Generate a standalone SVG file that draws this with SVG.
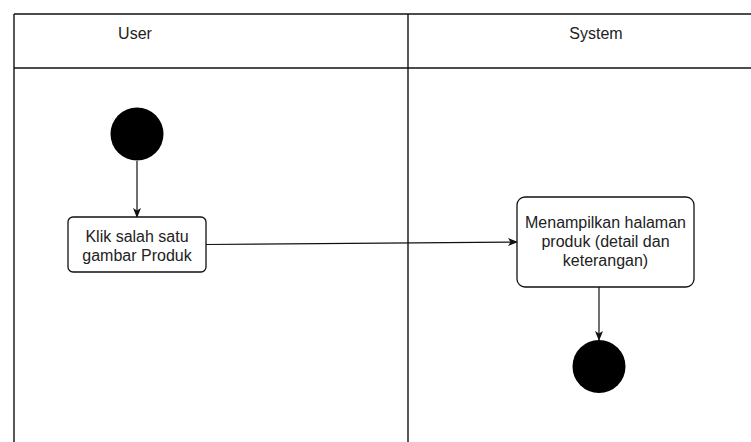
<svg xmlns="http://www.w3.org/2000/svg" width="751" height="442" viewBox="0 0 751 442">
  <defs>
    <style>
      .lane { fill: none; stroke: #111; stroke-width: 1.4; }
      .action { fill: #fff; stroke: #111; stroke-width: 1.3; }
      .dot { fill: #000; }
      .flow { fill: none; stroke: #111; stroke-width: 1.2; }
      .label { font-family: "Liberation Sans", Arial, sans-serif; font-size: 16px; fill: #222; text-anchor: middle; }
    </style>
    <marker id="arrow" viewBox="0 0 10 10" refX="9" refY="5" markerWidth="10" markerHeight="10" markerUnits="userSpaceOnUse" orient="auto">
      <path d="M0,1 L10,5 L0,9 L2.5,5 Z" fill="#111"/>
    </marker>
  </defs>

  <!-- swimlane frame -->
  <g id="swimlanes">
    <line class="lane" x1="14" y1="14" x2="751" y2="14"/>
    <line class="lane" x1="14" y1="14" x2="14" y2="442"/>
    <line class="lane" x1="408" y1="14" x2="408" y2="442"/>
    <line class="lane" x1="14" y1="68" x2="751" y2="68"/>
    <text class="label" x="135" y="39">User</text>
    <text class="label" x="596" y="39">System</text>
  </g>

  <!-- connectors -->
  <g id="connectors">
    <line class="flow" x1="137" y1="161" x2="137" y2="217" marker-end="url(#arrow)"/>
    <line class="flow" x1="206" y1="244.5" x2="517" y2="242" marker-end="url(#arrow)"/>
    <line class="flow" x1="599" y1="287" x2="599" y2="340" marker-end="url(#arrow)"/>
  </g>

  <g id="start">
    <circle class="dot" cx="137" cy="134" r="26.5"/>
  </g>

  <g id="klik-produk">
    <rect class="action" x="68" y="217" width="138" height="55" rx="5" ry="5"/>
    <text class="label" x="137" y="242">Klik salah satu</text>
    <text class="label" x="137" y="261">gambar Produk</text>
  </g>

  <g id="tampil-produk">
    <rect class="action" x="517" y="197" width="177" height="90" rx="8" ry="8"/>
    <text class="label" x="605.5" y="228">Menampilkan halaman</text>
    <text class="label" x="605.5" y="247">produk (detail dan</text>
    <text class="label" x="605.5" y="266">keterangan)</text>
  </g>

  <g id="end">
    <circle class="dot" cx="599" cy="366.5" r="26.5"/>
  </g>
</svg>
